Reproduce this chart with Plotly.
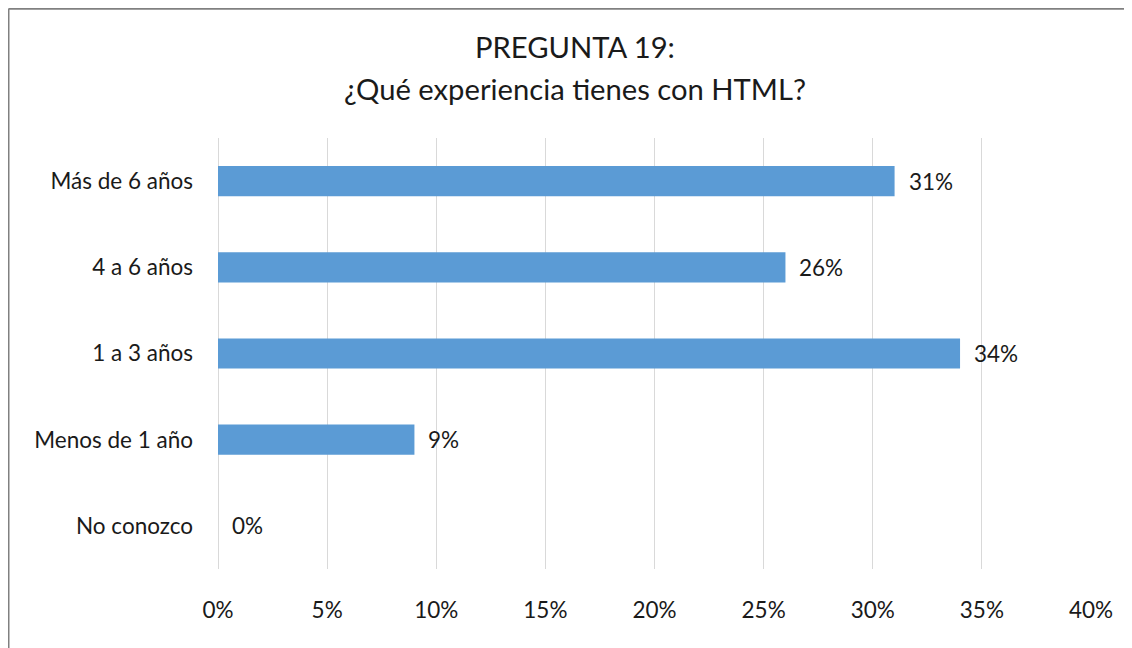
import plotly.graph_objects as go

categories = ["Más de 6 años", "4 a 6 años", "1 a 3 años", "Menos de 1 año", "No conozco"]
values = [31, 26, 34, 9, 0]
tick_values = [0, 5, 10, 15, 20, 25, 30, 35, 40]
tick_labels = [f"{t}%" for t in tick_values]
title_lines = ["PREGUNTA 19:", "¿Qué experiencia tienes con HTML?"]

FONT = "Lato"
TXT = "#1a1a1a"
# page body has an 8px margin; figure fills the rest of the window
W, H = 1124, 640
L, R, T, B = 210, 41, 130, 78.5
pw, ph = W - L - R, H - T - B

fig = go.Figure()
fig.add_trace(go.Bar(
    x=values, y=categories, orientation="h",
    marker=dict(color="#5B9BD5", line=dict(width=0)),
    width=0.35, hoverinfo="skip",
))

for c, v in zip(categories, values):
    fig.add_annotation(x=v, y=c, xref="x", yref="y", text=f"{v}%",
                       showarrow=False, xanchor="left", yanchor="middle",
                       xshift=12, font=dict(family=FONT, size=22.5, color=TXT))

# title (two lines)
for line, ypx in zip(title_lines, [38.5, 80]):
    fig.add_annotation(x=(567 - L) / pw, y=1 + (T - ypx) / ph, xref="paper", yref="paper",
                       text=line, showarrow=False, xanchor="center", yanchor="middle",
                       font=dict(family=FONT, size=29.2, color=TXT))

# outer chart border (left and top edges; the others fall outside the view)
bx = (0.5 - L) / pw
by = 1 + (T - 0.5) / ph
fig.add_shape(type="line", xref="paper", yref="paper", x0=bx, x1=bx, y0=-0.5, y1=by,
              line=dict(color="#808080", width=2), layer="below")
fig.add_shape(type="line", xref="paper", yref="paper", x0=bx, x1=1.5, y0=by, y1=by,
              line=dict(color="#808080", width=2), layer="below")

fig.update_layout(
    width=W, height=H,
    margin=dict(l=L, r=R, t=T, b=B, autoexpand=False),
    paper_bgcolor="white", plot_bgcolor="white",
    showlegend=False,
    font=dict(family=FONT, size=22.5, color=TXT),
    xaxis=dict(range=[0, 40], tickvals=tick_values, ticktext=tick_labels,
               showgrid=True, gridcolor="#D9D9D9", gridwidth=1.3,
               zeroline=True, zerolinecolor="#D9D9D9", zerolinewidth=1.3,
               showline=False, ticks="", ticklabelstandoff=25,
               tickfont=dict(family=FONT, size=22.5, color=TXT), fixedrange=True),
    yaxis=dict(autorange="reversed", showgrid=False, zeroline=False, showline=False,
               ticks="", ticklabelstandoff=24,
               tickfont=dict(family=FONT, size=22.5, color=TXT), fixedrange=True),
    bargap=0.65,
)

fig.write_html(
    "out.html",
    config={"displayModeBar": False},
    post_script="document.documentElement.style.overflow='hidden';"
                "document.body.style.overflow='hidden';",
)
